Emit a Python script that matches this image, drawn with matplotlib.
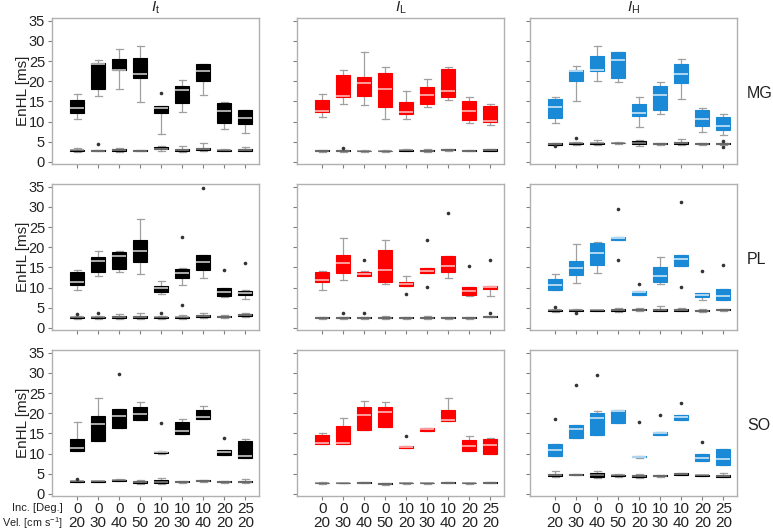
import matplotlib
matplotlib.use('Agg')
import matplotlib.pyplot as plt

plt.rcParams['font.family'] = ['Liberation Sans', 'DejaVu Sans']
plt.rcParams['mathtext.fontset'] = 'custom'
plt.rcParams['mathtext.rm'] = 'Liberation Sans'
plt.rcParams['mathtext.it'] = 'Liberation Sans:italic'

# ---------------- data ----------------
inclinations = [0, 0, 0, 0, 10, 10, 10, 20, 25]
velocities = [20, 30, 40, 50, 20, 30, 40, 20, 20]
sites = ['MG', 'PL', 'SO']
quantities = [r'$I_{\mathrm{t}}$', r'$I_{\mathrm{L}}$', r'$I_{\mathrm{H}}$']
yticks = [0, 5, 10, 15, 20, 25, 30, 35]

# each box: (whisker low, q1, median, q3, whisker high, [outliers])
MG_It_main = [(10.7, 12.1, 13.3, 15.4, 16.8), (16.3, 18.1, 24.3, 24.5, 25.2),
              (18.1, 22.7, 22.9, 25.5, 28.0), (14.9, 20.8, 21.9, 25.7, 28.7),
              (7.0, 12.1, 13.4, 14.0, 14.0, [17.1]), (12.4, 14.6, 17.8, 18.8, 20.4),
              (16.7, 20.0, 22.6, 24.3, 24.3), (8.2, 9.7, 12.7, 14.7, 14.8),
              (7.1, 9.4, 10.9, 13.0, 13.0)]
MG_IL_main = [(11.1, 12.5, 12.6, 15.4, 16.8), (14.4, 16.0, 16.3, 21.6, 22.9),
              (14.1, 16.3, 19.5, 21.1, 27.2), (10.7, 13.7, 18.1, 22.1, 23.5),
              (10.7, 12.0, 12.3, 14.9, 17.5), (13.7, 14.3, 16.5, 18.7, 20.6),
              (15.4, 16.0, 17.5, 23.0, 23.5), (9.7, 10.5, 12.6, 15.1, 16.1),
              (9.2, 9.8, 10.1, 13.8, 14.3)]
MG_IH_main = [(9.6, 10.9, 13.7, 15.6, 16.1), (15.2, 20.0, 22.5, 22.7, 23.7),
              (20.0, 22.5, 22.9, 26.3, 28.7), (19.9, 20.7, 25.2, 27.2, 27.2),
              (8.6, 11.3, 12.1, 14.3, 16.1), (12.0, 13.0, 16.7, 18.8, 19.8),
              (15.6, 19.6, 21.8, 24.2, 25.5), (7.4, 8.8, 10.7, 12.8, 13.4),
              (6.7, 8.0, 8.8, 11.1, 11.9)]
PL_It_main = [(9.4, 10.7, 11.4, 13.8, 14.4), (13.0, 13.8, 16.6, 17.5, 19.0),
              (13.8, 14.7, 17.9, 18.8, 19.0), (13.3, 16.4, 19.2, 21.8, 26.9),
              (8.4, 8.9, 9.9, 10.3, 11.7), (10.6, 12.5, 13.6, 14.7, 14.9, [22.5, 5.7]),
              (12.4, 14.3, 16.4, 18.2, 18.2, [34.7]), (7.7, 8.0, 8.8, 9.8, 10.0, [14.3]),
              (7.3, 8.2, 8.7, 9.2, 9.4, [16.2])]
PL_IL_main = [(9.4, 11.4, 11.9, 13.8, 14.1), (11.9, 13.6, 16.2, 18.0, 22.3),
              (12.8, 12.9, 13.3, 13.9, 14.1, [16.8]), (10.9, 11.3, 14.3, 19.4, 21.8),
              (10.4, 10.5, 10.9, 11.3, 12.8, [8.4]), (13.6, 13.6, 14.1, 14.8, 14.8, [21.7, 10.2]),
              (12.4, 13.8, 15.4, 17.9, 17.9, [28.5]), (8.0, 8.2, 9.1, 10.1, 10.1, [15.4]),
              (8.0, 9.7, 10.1, 10.3, 10.5, [16.9])]
PL_IH_main = [(9.3, 9.3, 10.7, 12.1, 13.4), (11.2, 13.2, 14.8, 16.6, 20.7),
              (13.6, 15.7, 18.7, 21.0, 21.2), (21.7, 21.7, 22.2, 22.6, 22.6, [29.4, 16.8]),
              (8.2, 8.3, 8.8, 9.1, 9.2, [10.9]), (10.8, 11.3, 12.9, 15.0, 17.6),
              (15.3, 15.3, 17.2, 18.0, 18.2, [31.2, 10.2]), (6.9, 7.7, 8.3, 8.6, 8.6, [14.1]),
              (7.0, 7.0, 8.0, 9.6, 9.6, [15.7])]
SO_It_main = [(10.6, 10.6, 11.4, 13.7, 17.8), (13.2, 13.2, 17.4, 19.3, 23.9),
              (16.4, 16.4, 19.4, 21.0, 21.0, [29.8]), (18.4, 18.4, 19.8, 21.6, 22.9),
              (10.0, 10.1, 10.3, 10.5, 10.6, [17.5]), (14.9, 14.9, 15.5, 17.9, 18.7),
              (18.7, 18.7, 19.1, 20.8, 21.8), (9.6, 9.7, 10.3, 10.9, 10.9, [13.8]),
              (8.9, 8.9, 9.5, 13.2, 13.6)]
SO_IL_main = [(12.3, 12.3, 12.7, 14.6, 15.1), (12.4, 12.4, 12.6, 16.9, 18.9),
              (15.9, 15.9, 19.7, 21.6, 23.0), (16.6, 16.6, 20.3, 21.6, 22.9),
              (11.4, 11.4, 11.6, 11.8, 11.8, [14.5]), (15.6, 15.6, 16.0, 16.3, 16.4),
              (18.1, 18.1, 18.4, 20.8, 23.9), (10.6, 10.6, 11.8, 13.3, 14.3),
              (9.8, 9.8, 12.2, 13.6, 13.9)]
SO_IH_main = [(9.5, 9.5, 10.9, 12.3, 12.3, [18.5]), (13.8, 13.8, 16.0, 17.0, 17.2, [27.0]),
              (14.7, 14.7, 18.9, 20.1, 20.5, [29.4]), (17.6, 17.6, 20.5, 20.7, 20.9),
              (8.8, 9.1, 9.2, 9.4, 9.4, [17.8]), (14.6, 14.6, 15.1, 15.3, 15.3, [19.5]),
              (18.4, 18.4, 19.1, 19.6, 19.6, [22.5]), (8.1, 8.1, 8.9, 9.8, 9.9, [12.8]),
              (7.1, 7.1, 8.7, 11.1, 11.1)]

MG_It_base = [(2.4, 2.7, 2.9, 3.0, 3.4), (2.6, 2.7, 2.8, 2.9, 3.0, [4.5]),
              (2.4, 2.6, 2.9, 3.2, 3.5), (2.6, 2.7, 2.8, 2.9, 3.0),
              (2.8, 3.1, 3.3, 3.6, 3.9), (2.5, 2.7, 3.0, 3.2, 3.9),
              (2.6, 2.9, 3.2, 3.5, 4.8), (2.6, 2.8, 2.9, 3.0, 3.2),
              (2.6, 2.8, 3.0, 3.2, 3.6)]
MG_IL_base = [(2.4, 2.6, 2.7, 2.9, 3.0), (2.4, 2.6, 2.8, 2.9, 3.0, [3.4]),
              (2.5, 2.6, 2.7, 2.8, 2.9), (2.5, 2.6, 2.7, 2.8, 2.9),
              (2.7, 2.8, 2.9, 3.0, 3.1), (2.4, 2.6, 2.8, 2.9, 3.2),
              (2.8, 2.9, 3.0, 3.1, 3.2), (2.6, 2.7, 2.8, 2.9, 3.0),
              (2.7, 2.8, 2.9, 3.1, 3.2)]
MG_IH_base = [(4.1, 4.3, 4.5, 4.6, 4.8, [3.9]), (4.3, 4.4, 4.6, 4.7, 4.9, [6.0]),
              (4.2, 4.4, 4.6, 4.8, 5.4), (4.4, 4.6, 4.7, 4.8, 4.9),
              (4.0, 4.4, 4.7, 5.1, 5.5), (4.2, 4.4, 4.5, 4.6, 4.8),
              (4.3, 4.5, 4.8, 5.0, 5.6), (4.3, 4.4, 4.5, 4.6, 4.8),
              (4.2, 4.4, 4.5, 4.6, 4.8, [3.8, 5.3])]
PL_It_base = [(2.3, 2.5, 2.6, 2.8, 3.0, [3.5]), (2.3, 2.5, 2.6, 2.8, 3.0, [3.8]),
              (2.3, 2.5, 2.8, 3.0, 3.4), (2.2, 2.4, 2.7, 3.0, 3.6),
              (2.3, 2.5, 2.6, 2.8, 3.0, [3.7]), (2.3, 2.5, 2.6, 2.8, 3.1),
              (2.4, 2.6, 2.9, 3.2, 3.6), (2.4, 2.6, 2.8, 3.0, 3.3),
              (2.8, 3.0, 3.2, 3.4, 3.7)]
PL_IL_base = [(2.3, 2.4, 2.5, 2.6, 2.7), (2.3, 2.4, 2.5, 2.6, 2.8, [3.6]),
              (2.3, 2.4, 2.5, 2.6, 2.8, [3.6]), (2.3, 2.4, 2.5, 2.6, 2.9),
              (2.3, 2.4, 2.5, 2.6, 2.8), (2.3, 2.4, 2.5, 2.7, 2.9),
              (2.3, 2.4, 2.5, 2.6, 2.7), (2.3, 2.4, 2.5, 2.6, 2.7),
              (2.6, 2.7, 2.8, 2.9, 3.0, [3.6])]
PL_IH_base = [(4.0, 4.2, 4.4, 4.5, 4.6, [5.1]), (4.2, 4.3, 4.4, 4.5, 4.6, [3.8]),
              (4.3, 4.3, 4.4, 4.5, 4.5), (4.0, 4.2, 4.4, 4.6, 5.0),
              (4.2, 4.4, 4.5, 4.7, 5.0), (4.1, 4.3, 4.5, 4.7, 5.4),
              (4.2, 4.3, 4.5, 4.7, 5.0), (4.0, 4.2, 4.3, 4.5, 4.8),
              (4.3, 4.4, 4.5, 4.6, 4.6)]
SO_It_base = [(2.9, 3.0, 3.1, 3.2, 3.3, [3.8]), (2.9, 3.0, 3.1, 3.2, 3.2),
              (3.1, 3.2, 3.4, 3.5, 3.6), (2.5, 2.6, 3.0, 3.3, 3.5),
              (2.5, 2.7, 3.0, 3.5, 3.9), (2.8, 2.9, 3.0, 3.1, 3.2),
              (3.0, 3.1, 3.3, 3.4, 3.5), (2.8, 2.9, 3.0, 3.1, 3.2),
              (2.8, 2.9, 3.0, 3.2, 3.6)]
SO_IL_base = [(2.5, 2.6, 2.7, 2.8, 2.9), (2.6, 2.7, 2.7, 2.8, 2.8),
              (2.6, 2.7, 2.8, 2.9, 3.0), (2.3, 2.4, 2.5, 2.6, 2.6),
              (2.5, 2.6, 2.7, 2.8, 2.8), (2.4, 2.6, 2.7, 2.8, 2.8),
              (2.6, 2.7, 2.8, 2.9, 3.0), (2.5, 2.6, 2.7, 2.8, 2.8),
              (2.6, 2.7, 2.8, 2.9, 3.0)]
SO_IH_base = [(4.2, 4.4, 4.6, 4.9, 5.7), (4.6, 4.7, 4.8, 4.9, 5.0),
              (4.0, 4.3, 4.7, 5.3, 5.6), (4.3, 4.4, 4.6, 4.7, 4.9),
              (4.0, 4.2, 4.5, 4.7, 4.9), (4.3, 4.4, 4.5, 4.7, 4.8),
              (4.6, 4.8, 4.9, 5.1, 5.3), (4.4, 4.5, 4.6, 4.7, 4.8),
              (4.1, 4.3, 4.4, 4.6, 5.2)]

main_data = [[MG_It_main, MG_IL_main, MG_IH_main],
             [PL_It_main, PL_IL_main, PL_IH_main],
             [SO_It_main, SO_IL_main, SO_IH_main]]
base_data = [[MG_It_base, MG_IL_base, MG_IH_base],
             [PL_It_base, PL_IL_base, PL_IH_base],
             [SO_It_base, SO_IL_base, SO_IH_base]]

box_colors = ['#000000', '#ff0000', '#1a8ad6']
median_colors = ['#d9d9d9', '#ffc8c8', '#d8ecfa']


def to_stats(rows):
    out = []
    for r in rows:
        out.append(dict(whislo=r[0], q1=r[1], med=r[2], q3=r[3], whishi=r[4],
                        fliers=list(r[5]) if len(r) > 5 else []))
    return out


W, H = 773, 531
fig = plt.figure(figsize=(W / 100, H / 100), dpi=100)

lefts = [52, 297, 530]
aw = 207
tops = [18, 184, 350]
ah = 146
positions = list(range(1, 10))
grey = '#a0a0a0'


def draw(ax, rows, face, med):
    ax.bxp(to_stats(rows), positions=positions, widths=0.67, patch_artist=True,
           manage_ticks=False, capwidths=0.33,
           boxprops=dict(facecolor=face, edgecolor=face, linewidth=0.8, zorder=3),
           medianprops=dict(color=med, linewidth=1.1, zorder=4),
           whiskerprops=dict(color=grey, linewidth=0.9, zorder=2),
           capprops=dict(color=grey, linewidth=0.9, zorder=2),
           flierprops=dict(marker='o', markersize=2.6, markerfacecolor='#333333',
                           markeredgecolor='none', zorder=5))


for r in range(3):
    for c in range(3):
        ax = fig.add_axes([lefts[c] / W, 1 - (tops[r] + ah) / H, aw / W, ah / H])
        draw(ax, main_data[r][c], box_colors[c], median_colors[c])
        draw(ax, base_data[r][c], '#000000', '#8a8a8a')
        ax.set_xlim(-0.2, 9.65)
        ax.set_ylim(-0.5, 35.7)
        ax.set_yticks(yticks)
        ax.set_xticks(positions)
        for s in ax.spines.values():
            s.set_color('#b0b0b0')
            s.set_linewidth(1.0)
        ax.tick_params(axis='both', direction='out', length=3, width=0.8,
                       color='#808080', labelcolor='#222222', labelsize=10.5)
        ax.tick_params(axis='x', pad=1.5)
        ax.tick_params(axis='y', pad=2)
        if c == 0:
            ax.set_yticklabels([str(t) for t in yticks])
        else:
            ax.set_yticklabels([])
        if r == 2:
            labs = ax.set_xticklabels([f"{i}\n{v}" for i, v in zip(inclinations, velocities)],
                                      fontsize=11)
            for t in labs:
                t.set_linespacing(1.0)
        else:
            ax.set_xticklabels([])
        if c == 0:
            fig.text(23 / W, 1 - (tops[r] + ah / 2) / H, 'EnHL [ms]', rotation=90,
                     ha='center', va='center', fontsize=11, color='#222222')
        if c == 2:
            fig.text(747 / W, 1 - (tops[r] + ah / 2 + 3) / H, sites[r],
                     ha='left', va='center', fontsize=11.5, color='#222222')
        if r == 0:
            fig.text((lefts[c] + aw / 2) / W, 1 - 8 / H, quantities[c],
                     ha='center', va='center', fontsize=11, color='#222222')

fig.text(63 / W, 1 - 508 / H, 'Inc. [Deg.]', ha='right', va='center', fontsize=8,
         color='#222222')
fig.text(63 / W, 1 - 523 / H, r'Vel. [cm s$^{-1}$]', ha='right', va='center',
         fontsize=7.8, color='#222222')

fig.savefig('out.png', dpi=100)
